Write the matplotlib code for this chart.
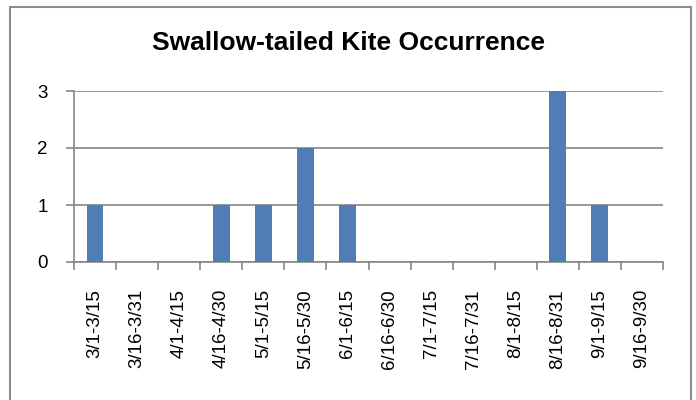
import matplotlib
matplotlib.use("Agg")
import matplotlib.pyplot as plt
from matplotlib.patches import Rectangle

categories = ["3/1-3/15", "3/16-3/31", "4/1-4/15", "4/16-4/30", "5/1-5/15",
              "5/16-5/30", "6/1-6/15", "6/16-6/30", "7/1-7/15", "7/16-7/31",
              "8/1-8/15", "8/16-8/31", "9/1-9/15", "9/16-9/30"]
values = [1, 0, 0, 1, 1, 2, 1, 0, 0, 0, 0, 3, 1, 0]
yticks = [0, 1, 2, 3]
title = "Swallow-tailed Kite Occurrence"

plt.rcParams['font.family'] = ['Liberation Sans', 'DejaVu Sans']

W, H = 696, 400
fig = plt.figure(figsize=(W / 100, H / 100), dpi=100)
fig.patch.set_facecolor("white")

# chart border
fig.add_artist(Rectangle((10 / W, -0.05), (691 - 10) / W, (H - 7) / H + 0.05,
                         transform=fig.transFigure, fill=False,
                         edgecolor="#8c8c8c", linewidth=1.5))

left, right, top, bottom = 74, 663, 91, 262
ax = fig.add_axes([left / W, 1 - bottom / H, (right - left) / W, (bottom - top) / H])

gray = "#868686"
n = len(categories)
x = list(range(n))
ax.bar(x, values, width=0.4, color="#4F7DB4", zorder=3)
ax.set_xlim(-0.5, n - 0.5)
ax.set_ylim(0, 3)
ax.set_yticks(yticks)
ax.set_yticklabels([str(v) for v in yticks], fontsize=13.5)
ax.yaxis.grid(True, color=gray, linewidth=1.2, zorder=0)
ax.set_axisbelow(True)

ax.set_xticks([i - 0.5 for i in range(n + 1)])
ax.set_xticklabels([])
ax.set_xticks(x, minor=True)
ax.set_xticklabels(categories, minor=True, rotation=90, fontsize=13.5)
ax.tick_params(axis="x", which="minor", length=0, pad=19.5)
ax.tick_params(axis="x", which="major", length=6, width=1.2, color=gray)
ax.yaxis.set_tick_params(length=6, width=1.2, color=gray, pad=13)

for s in ["top", "right"]:
    ax.spines[s].set_visible(False)
for s in ["left", "bottom"]:
    ax.spines[s].set_color(gray)
    ax.spines[s].set_linewidth(1.2)

fig.text(349 / W, 1 - 43 / H, title, ha="center", va="center",
         fontsize=19, fontweight="bold")

fig.savefig("out.png", dpi=100)
